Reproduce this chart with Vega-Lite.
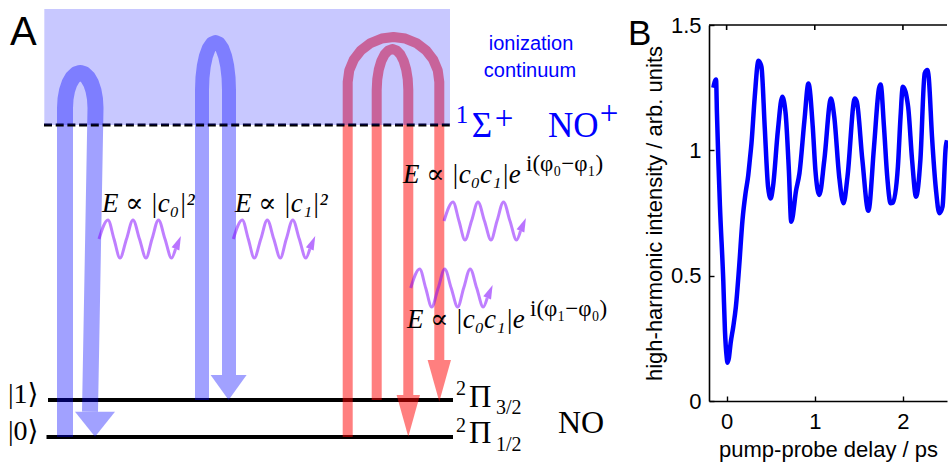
{
  "$schema": "https://vega.github.io/schema/vega-lite/v6.json",
  "background": "white",
  "padding": 0,
  "spacing": 0,
  "bounds": "flush",
  "config": {
    "view": {"stroke": null},
    "axis": {
      "labelFont": "Liberation Sans", "labelFontSize": 22, "labelColor": "#000",
      "titleFont": "Liberation Sans", "titleFontSize": 22, "titleFontWeight": "normal", "titleColor": "#000",
      "domain": true, "domainColor": "#000", "domainWidth": 1.6, "tickColor": "#000", "tickWidth": 1.4,
      "tickSize": -5, "grid": false
    }
  },
  "datasets": {
    "arrowsBlue1": [
      {"id": "b1", "i": 0, "x": 65, "y": 437}, {"id": "b1", "i": 1, "x": 65, "y": 108},
      {"id": "b1", "i": 2, "x": 65.52, "y": 98.94}, {"id": "b1", "i": 3, "x": 67.04, "y": 90.5},
      {"id": "b1", "i": 4, "x": 69.47, "y": 83.25}, {"id": "b1", "i": 5, "x": 72.63, "y": 77.69},
      {"id": "b1", "i": 6, "x": 76.3, "y": 74.19}, {"id": "b1", "i": 7, "x": 80.25, "y": 73},
      {"id": "b1", "i": 8, "x": 84.2, "y": 74.19}, {"id": "b1", "i": 9, "x": 87.88, "y": 77.69},
      {"id": "b1", "i": 10, "x": 91.03, "y": 83.25}, {"id": "b1", "i": 11, "x": 93.46, "y": 90.5},
      {"id": "b1", "i": 12, "x": 94.98, "y": 98.94}, {"id": "b1", "i": 13, "x": 95.5, "y": 108},
      {"id": "b1", "i": 14, "x": 90, "y": 411.7}
    ],
    "arrowsBlue2": [
      {"id": "b2", "i": 0, "x": 202, "y": 400}, {"id": "b2", "i": 1, "x": 202, "y": 90},
      {"id": "b2", "i": 2, "x": 202.46, "y": 77.58}, {"id": "b2", "i": 3, "x": 203.81, "y": 66},
      {"id": "b2", "i": 4, "x": 205.95, "y": 56.06}, {"id": "b2", "i": 5, "x": 208.75, "y": 48.43},
      {"id": "b2", "i": 6, "x": 212.01, "y": 43.64}, {"id": "b2", "i": 7, "x": 215.5, "y": 42},
      {"id": "b2", "i": 8, "x": 218.99, "y": 43.64}, {"id": "b2", "i": 9, "x": 222.25, "y": 48.43},
      {"id": "b2", "i": 10, "x": 225.05, "y": 56.06}, {"id": "b2", "i": 11, "x": 227.19, "y": 66},
      {"id": "b2", "i": 12, "x": 228.54, "y": 77.58}, {"id": "b2", "i": 13, "x": 229, "y": 90},
      {"id": "b2", "i": 14, "x": 229, "y": 375}
    ],
    "arrowsRed": [
      {"id": "r1", "i": 0, "x": 347.7, "y": 437}, {"id": "r1", "i": 1, "x": 347.7, "y": 82},
      {"id": "r1", "i": 2, "x": 349.26, "y": 70.35}, {"id": "r1", "i": 3, "x": 353.84, "y": 59.5},
      {"id": "r1", "i": 4, "x": 361.12, "y": 50.18}, {"id": "r1", "i": 5, "x": 370.6, "y": 43.03},
      {"id": "r1", "i": 6, "x": 381.64, "y": 38.53}, {"id": "r1", "i": 7, "x": 393.5, "y": 37},
      {"id": "r1", "i": 8, "x": 405.36, "y": 38.53}, {"id": "r1", "i": 9, "x": 416.4, "y": 43.03},
      {"id": "r1", "i": 10, "x": 425.88, "y": 50.18}, {"id": "r1", "i": 11, "x": 433.16, "y": 59.5},
      {"id": "r1", "i": 12, "x": 437.74, "y": 70.35}, {"id": "r1", "i": 13, "x": 439.3, "y": 82},
      {"id": "r1", "i": 14, "x": 439.3, "y": 360},
      {"id": "r2", "i": 0, "x": 376.7, "y": 400}, {"id": "r2", "i": 1, "x": 376.7, "y": 90},
      {"id": "r2", "i": 2, "x": 377.24, "y": 79.39}, {"id": "r2", "i": 3, "x": 378.82, "y": 69.5},
      {"id": "r2", "i": 4, "x": 381.33, "y": 61.01}, {"id": "r2", "i": 5, "x": 384.6, "y": 54.49},
      {"id": "r2", "i": 6, "x": 388.41, "y": 50.4}, {"id": "r2", "i": 7, "x": 392.5, "y": 49},
      {"id": "r2", "i": 8, "x": 396.59, "y": 50.4}, {"id": "r2", "i": 9, "x": 400.4, "y": 54.49},
      {"id": "r2", "i": 10, "x": 403.67, "y": 61.01}, {"id": "r2", "i": 11, "x": 406.18, "y": 69.5},
      {"id": "r2", "i": 12, "x": 407.76, "y": 79.39}, {"id": "r2", "i": 13, "x": 408.3, "y": 90},
      {"id": "r2", "i": 14, "x": 408.3, "y": 395}
    ],
    "headBlue1": [{"x": 95, "y": 424.2}],
    "headBlue2": [{"x": 228.6, "y": 387.5}],
    "headRed": [{"x": 408.3, "y": 415.8}, {"x": 439.3, "y": 380.8}],
    "levels": [
      {"state": "|1>", "x": 48, "x2": 453, "y": 400},
      {"state": "|0>", "x": 46.5, "x2": 453, "y": 437}
    ],
    "threshold": [{"x": 44, "x2": 450, "y": 125}],
    "continuum": [{"x": 44.3, "x2": 450, "y": 9, "y2": 125}],
    "waves": [
      {"id": "w1", "i": 0, "x": 99, "y": 239}, {"id": "w1", "i": 1, "x": 108, "y": 220}, {"id": "w1", "i": 2, "x": 114, "y": 239},
      {"id": "w1", "i": 3, "x": 120, "y": 258}, {"id": "w1", "i": 4, "x": 126.5, "y": 239}, {"id": "w1", "i": 5, "x": 133, "y": 220},
      {"id": "w1", "i": 6, "x": 139.5, "y": 239}, {"id": "w1", "i": 7, "x": 146, "y": 258}, {"id": "w1", "i": 8, "x": 152, "y": 239},
      {"id": "w1", "i": 9, "x": 158.5, "y": 220}, {"id": "w1", "i": 10, "x": 165, "y": 239}, {"id": "w1", "i": 11, "x": 171.5, "y": 258},
      {"id": "w1", "i": 12, "x": 175.5, "y": 249},
      {"id": "w2", "i": 0, "x": 233.3, "y": 239}, {"id": "w2", "i": 1, "x": 242.3, "y": 220}, {"id": "w2", "i": 2, "x": 248.3, "y": 239},
      {"id": "w2", "i": 3, "x": 254.3, "y": 258}, {"id": "w2", "i": 4, "x": 260.8, "y": 239}, {"id": "w2", "i": 5, "x": 267.3, "y": 220},
      {"id": "w2", "i": 6, "x": 273.8, "y": 239}, {"id": "w2", "i": 7, "x": 280.3, "y": 258}, {"id": "w2", "i": 8, "x": 286.3, "y": 239},
      {"id": "w2", "i": 9, "x": 292.8, "y": 220}, {"id": "w2", "i": 10, "x": 299.3, "y": 239}, {"id": "w2", "i": 11, "x": 305.8, "y": 258},
      {"id": "w2", "i": 12, "x": 309.8, "y": 249},
      {"id": "w3", "i": 0, "x": 444, "y": 221}, {"id": "w3", "i": 1, "x": 453, "y": 202}, {"id": "w3", "i": 2, "x": 459, "y": 221},
      {"id": "w3", "i": 3, "x": 465, "y": 240}, {"id": "w3", "i": 4, "x": 471.5, "y": 221}, {"id": "w3", "i": 5, "x": 478, "y": 202},
      {"id": "w3", "i": 6, "x": 484.5, "y": 221}, {"id": "w3", "i": 7, "x": 491, "y": 240}, {"id": "w3", "i": 8, "x": 497, "y": 221},
      {"id": "w3", "i": 9, "x": 503.5, "y": 202}, {"id": "w3", "i": 10, "x": 510, "y": 221}, {"id": "w3", "i": 11, "x": 516.5, "y": 240},
      {"id": "w3", "i": 12, "x": 520.5, "y": 231},
      {"id": "w4", "i": 0, "x": 410.7, "y": 288}, {"id": "w4", "i": 1, "x": 419.7, "y": 269}, {"id": "w4", "i": 2, "x": 425.7, "y": 288},
      {"id": "w4", "i": 3, "x": 431.7, "y": 307}, {"id": "w4", "i": 4, "x": 438.2, "y": 288}, {"id": "w4", "i": 5, "x": 444.7, "y": 269},
      {"id": "w4", "i": 6, "x": 451.2, "y": 288}, {"id": "w4", "i": 7, "x": 457.7, "y": 307}, {"id": "w4", "i": 8, "x": 463.7, "y": 288},
      {"id": "w4", "i": 9, "x": 470.2, "y": 269}, {"id": "w4", "i": 10, "x": 476.7, "y": 288}, {"id": "w4", "i": 11, "x": 483.2, "y": 307},
      {"id": "w4", "i": 12, "x": 487.2, "y": 298}
    ],
    "waveHeads": [
      {"id": "w1", "x": 178.2, "y": 242.5}, {"id": "w2", "x": 312.5, "y": 242.5},
      {"id": "w3", "x": 523.2, "y": 224.5}, {"id": "w4", "x": 489.9, "y": 291.5}
    ],
    "labelA": [{"label": "A", "x": 10, "y": 45}],
    "labelB": [{"label": "B", "x": 628, "y": 45}],
    "ionText": [{"label": "ionization", "x": 531, "y": 50}, {"label": "continuum", "x": 530, "y": 76.7}],
    "ionState": [{"label": "Σ", "x": 471.7, "y": 136.7}, {"label": "NO", "x": 548, "y": 136.7}],
    "ionSupDigit": [{"label": "1", "x": 462, "y": 123.3}],
    "ionSupPlus": [{"label": "+", "x": 504, "y": 129}, {"label": "+", "x": 609, "y": 124}],
    "levelText": [
      {"label": "|1⟩", "x": 8, "y": 403}, {"label": "|0⟩", "x": 8, "y": 440}
    ],
    "termText": [
      {"label": "Π", "x": 469, "y": 406.7}, {"label": "Π", "x": 469, "y": 443.3}
    ],
    "moleculeText": [{"label": "NO", "x": 558, "y": 433.3}],
    "smallText": [
      {"label": "2", "x": 456, "y": 395}, {"label": "2", "x": 456, "y": 431.7},
      {"label": "3/2", "x": 496, "y": 414}, {"label": "1/2", "x": 496, "y": 451}
    ],
    "exponentText": [
      {"label": "i(φ₀−φ₁)", "x": 526, "y": 171}, {"label": "i(φ₁−φ₀)", "x": 530, "y": 316}
    ],
    "fieldText": [
      {"label": "E ∝ |c₀|²", "x": 102, "y": 212}, {"label": "E ∝ |c₁|²", "x": 235, "y": 212},
      {"label": "E ∝ |c₀c₁|e", "x": 403, "y": 183}, {"label": "E ∝ |c₀c₁|e", "x": 407, "y": 328}
    ],
    "topBorder": [
      {"id": "top", "i": 0, "t": -0.2, "v": 1.5}, {"id": "top", "i": 1, "t": 2.5, "v": 1.5},
      {"id": "t0", "i": 0, "t": 0, "v": 1.5}, {"id": "t0", "i": 1, "t": 0, "v": 1.48},
      {"id": "t1", "i": 0, "t": 1, "v": 1.5}, {"id": "t1", "i": 1, "t": 1, "v": 1.48},
      {"id": "t2", "i": 0, "t": 2, "v": 1.5}, {"id": "t2", "i": 1, "t": 2, "v": 1.48}
    ],
    "hhg": [
      {"t": -0.151, "v": 1.25}, {"t": -0.12, "v": 1.283}, {"t": -0.11, "v": 1.15}, {"t": -0.093, "v": 0.95},
      {"t": -0.076, "v": 0.78}, {"t": -0.038, "v": 0.48}, {"t": -0.019, "v": 0.28}, {"t": 0.0, "v": 0.177},
      {"t": 0.01, "v": 0.153}, {"t": 0.025, "v": 0.17}, {"t": 0.045, "v": 0.23}, {"t": 0.075, "v": 0.296},
      {"t": 0.105, "v": 0.376}, {"t": 0.142, "v": 0.536}, {"t": 0.18, "v": 0.722}, {"t": 0.215, "v": 0.83},
      {"t": 0.245, "v": 0.9}, {"t": 0.263, "v": 0.961}, {"t": 0.282, "v": 1.028}, {"t": 0.319, "v": 1.214},
      {"t": 0.361, "v": 1.357}, {"t": 0.395, "v": 1.333}, {"t": 0.432, "v": 1.094}, {"t": 0.47, "v": 0.855},
      {"t": 0.5, "v": 0.808}, {"t": 0.526, "v": 0.855}, {"t": 0.582, "v": 1.081}, {"t": 0.631, "v": 1.214},
      {"t": 0.669, "v": 1.148}, {"t": 0.706, "v": 0.921}, {"t": 0.733, "v": 0.715}, {"t": 0.789, "v": 0.842},
      {"t": 0.826, "v": 0.908}, {"t": 0.883, "v": 1.121}, {"t": 0.928, "v": 1.267}, {"t": 0.977, "v": 1.094},
      {"t": 1.007, "v": 0.921}, {"t": 1.052, "v": 0.822}, {"t": 1.108, "v": 0.961}, {"t": 1.184, "v": 1.207},
      {"t": 1.221, "v": 1.134}, {"t": 1.277, "v": 0.895}, {"t": 1.326, "v": 0.789}, {"t": 1.371, "v": 0.895},
      {"t": 1.454, "v": 1.207}, {"t": 1.477, "v": 1.194}, {"t": 1.54, "v": 0.961}, {"t": 1.608, "v": 0.759},
      {"t": 1.672, "v": 1.014}, {"t": 1.728, "v": 1.247}, {"t": 1.747, "v": 1.263}, {"t": 1.785, "v": 1.094},
      {"t": 1.822, "v": 0.895}, {"t": 1.86, "v": 0.789}, {"t": 1.886, "v": 0.791}, {"t": 1.943, "v": 0.935},
      {"t": 1.973, "v": 1.134}, {"t": 1.999, "v": 1.254}, {"t": 2.059, "v": 1.174}, {"t": 2.104, "v": 0.961},
      {"t": 2.149, "v": 0.815}, {"t": 2.198, "v": 0.961}, {"t": 2.247, "v": 1.307}, {"t": 2.277, "v": 1.32},
      {"t": 2.292, "v": 1.294}, {"t": 2.33, "v": 1.054}, {"t": 2.375, "v": 0.842}, {"t": 2.413, "v": 0.749},
      {"t": 2.449, "v": 0.775}, {"t": 2.486, "v": 1.014}, {"t": 2.5, "v": 1.04}
    ]
  },
  "hconcat": [
    {
      "width": 709,
      "height": 462,
      "encoding": {
        "x": {"field": "x", "type": "quantitative", "scale": {"domain": [0, 709], "nice": false, "zero": false}, "axis": null},
        "y": {"field": "y", "type": "quantitative", "scale": {"domain": [0, 462], "reverse": true, "nice": false, "zero": false}, "axis": null}
      },
      "layer": [
        {
          "data": {"name": "levels"},
          "mark": {"type": "rule", "color": "#000", "strokeWidth": 4},
          "encoding": {"x2": {"field": "x2"}}
        },
        {
          "data": {"name": "arrowsBlue1"},
          "mark": {"type": "line", "color": "#0000ff", "opacity": 0.37, "strokeWidth": 16, "strokeJoin": "round", "strokeCap": "butt"},
          "encoding": {"detail": {"field": "id"}, "order": {"field": "i"}}
        },
        {
          "data": {"name": "arrowsBlue2"},
          "mark": {"type": "line", "color": "#0000ff", "opacity": 0.37, "strokeWidth": 14, "strokeJoin": "round", "strokeCap": "butt"},
          "encoding": {"detail": {"field": "id"}, "order": {"field": "i"}}
        },
        {
          "data": {"name": "arrowsRed"},
          "mark": {"type": "line", "color": "#ff0000", "opacity": 0.5, "strokeWidth": 10, "strokeJoin": "round", "strokeCap": "butt"},
          "encoding": {"detail": {"field": "id"}, "order": {"field": "i"}}
        },
        {
          "data": {"name": "headBlue1"},
          "mark": {"type": "point", "filled": true, "color": "#0000ff", "opacity": 0.37, "strokeWidth": 0, "shape": "M-1,-0.625L1,-0.625L0,0.625Z", "size": 1600}
        },
        {
          "data": {"name": "headBlue2"},
          "mark": {"type": "point", "filled": true, "color": "#0000ff", "opacity": 0.37, "strokeWidth": 0, "shape": "M-1,-0.69L1,-0.69L0,0.69Z", "size": 1296}
        },
        {
          "data": {"name": "headRed"},
          "mark": {"type": "point", "filled": true, "color": "#ff0000", "opacity": 0.5, "strokeWidth": 0, "shape": "M-0.56,-1L0.56,-1L0,1Z", "size": 1739}
        },
        {
          "data": {"name": "threshold"},
          "mark": {"type": "rule", "color": "#000", "strokeWidth": 3, "strokeDash": [8, 3.7]},
          "encoding": {"x2": {"field": "x2"}}
        },
        {
          "data": {"name": "continuum"},
          "mark": {"type": "rect", "color": "#0000ff", "opacity": 0.216},
          "encoding": {"x2": {"field": "x2"}, "y2": {"field": "y2"}}
        },
        {
          "data": {"name": "waves"},
          "mark": {"type": "line", "color": "#8000ff", "opacity": 0.5, "strokeWidth": 3, "interpolate": "monotone"},
          "encoding": {"detail": {"field": "id"}, "order": {"field": "i"}}
        },
        {
          "data": {"name": "waveHeads"},
          "mark": {"type": "point", "filled": true, "color": "#8000ff", "opacity": 0.55, "strokeWidth": 0, "shape": "M0,-1L0.6,1L-0.6,1Z", "size": 196, "angle": 23}
        },
        {
          "data": {"name": "labelA"},
          "mark": {"type": "text", "font": "Liberation Sans", "fontSize": 40, "align": "left", "baseline": "alphabetic", "color": "#000"},
          "encoding": {"text": {"field": "label"}}
        },
        {
          "data": {"name": "labelB"},
          "mark": {"type": "text", "font": "Liberation Sans", "fontSize": 35, "align": "left", "baseline": "alphabetic", "color": "#000"},
          "encoding": {"text": {"field": "label"}}
        },
        {
          "data": {"name": "ionText"},
          "mark": {"type": "text", "font": "Liberation Sans", "fontSize": 20, "align": "center", "baseline": "alphabetic", "color": "#0000ff"},
          "encoding": {"text": {"field": "label"}}
        },
        {
          "data": {"name": "ionState"},
          "mark": {"type": "text", "font": "Liberation Serif, DejaVu Serif, serif", "fontSize": 35, "align": "left", "baseline": "alphabetic", "color": "#0000ff"},
          "encoding": {"text": {"field": "label"}}
        },
        {
          "data": {"name": "ionSupDigit"},
          "mark": {"type": "text", "font": "Liberation Serif, DejaVu Serif, serif", "fontSize": 25, "align": "center", "baseline": "alphabetic", "color": "#0000ff"},
          "encoding": {"text": {"field": "label"}}
        },
        {
          "data": {"name": "ionSupPlus"},
          "mark": {"type": "text", "font": "Liberation Serif, DejaVu Serif, serif", "fontSize": 33, "align": "center", "baseline": "alphabetic", "color": "#0000ff"},
          "encoding": {"text": {"field": "label"}}
        },
        {
          "data": {"name": "levelText"},
          "mark": {"type": "text", "font": "Liberation Serif, DejaVu Serif, serif", "fontSize": 28, "align": "left", "baseline": "alphabetic", "color": "#000"},
          "encoding": {"text": {"field": "label"}}
        },
        {
          "data": {"name": "termText"},
          "mark": {"type": "text", "font": "Liberation Serif, DejaVu Serif, serif", "fontSize": 31, "align": "left", "baseline": "alphabetic", "color": "#000"},
          "encoding": {"text": {"field": "label"}}
        },
        {
          "data": {"name": "moleculeText"},
          "mark": {"type": "text", "font": "Liberation Serif, DejaVu Serif, serif", "fontSize": 32, "align": "left", "baseline": "alphabetic", "color": "#000"},
          "encoding": {"text": {"field": "label"}}
        },
        {
          "data": {"name": "smallText"},
          "mark": {"type": "text", "font": "Liberation Serif, DejaVu Serif, serif", "fontSize": 20, "align": "left", "baseline": "alphabetic", "color": "#000"},
          "encoding": {"text": {"field": "label"}}
        },
        {
          "data": {"name": "exponentText"},
          "mark": {"type": "text", "font": "Liberation Serif, DejaVu Serif, serif", "fontSize": 23, "align": "left", "baseline": "alphabetic", "color": "#000"},
          "encoding": {"text": {"field": "label"}}
        },
        {
          "data": {"name": "fieldText"},
          "mark": {"type": "text", "font": "Liberation Serif, DejaVu Serif, serif", "fontSize": 27, "fontStyle": "italic", "align": "left", "baseline": "alphabetic", "color": "#000"},
          "encoding": {"text": {"field": "label"}}
        }
      ]
    },
    {
      "width": 238,
      "height": 401,
      "encoding": {
        "x": {"field": "t", "type": "quantitative", "scale": {"domain": [-0.2, 2.5], "nice": false, "zero": false},
          "axis": {"orient": "bottom", "values": [0, 1, 2], "format": "~g", "title": "pump-probe delay / ps", "titlePadding": 7, "labelPadding": 15}},
        "y": {"field": "v", "type": "quantitative", "scale": {"domain": [0, 1.5], "range": [401, 25], "nice": false, "zero": false},
          "axis": {"orient": "left", "values": [0, 0.5, 1, 1.5], "format": "~g", "title": "high-harmonic intensity / arb. units", "titlePadding": 4, "labelPadding": 13}}
      },
      "layer": [
        {
          "data": {"name": "hhg"},
          "mark": {"type": "line", "color": "#0000ff", "strokeWidth": 4.5, "interpolate": "monotone", "strokeJoin": "round"}
        },
        {
          "data": {"name": "topBorder"},
          "mark": {"type": "line", "color": "#000000", "strokeWidth": 1.6},
          "encoding": {"detail": {"field": "id"}, "order": {"field": "i"}}
        }
      ]
    }
  ]
}
